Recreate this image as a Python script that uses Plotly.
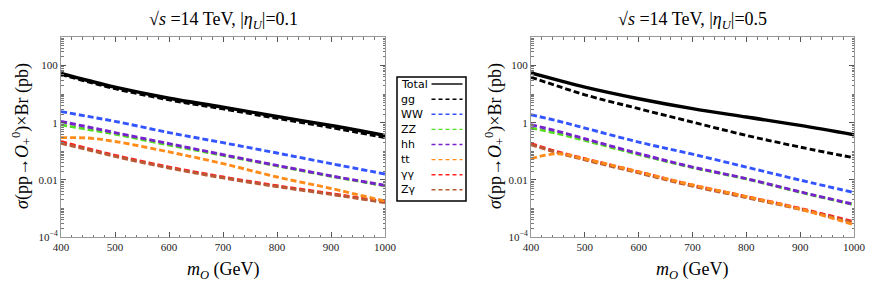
import plotly.graph_objects as go

W, H = 872, 287

masses = [400, 450, 500, 600, 700, 800, 900, 1000]

series_names = ["Total", "gg", "WW", "ZZ", "hh", "tt", "γγ", "Zγ"]
series_colors = ["#000000", "#000000", "#3355ff", "#55dd22", "#7722cc", "#ff8c1a", "#ff2222", "#b85a35"]

# left panel: |eta_U| = 0.1
left_total = [53, 30, 17.5, 7.2, 3.5, 1.65, 0.80, 0.36]
left_gg = [49, 27, 15.5, 6.3, 3.05, 1.42, 0.68, 0.30]
left_WW = [2.45, 1.66, 1.12, 0.45, 0.20, 0.087, 0.037, 0.016]
left_ZZ = [0.84, 0.58, 0.40, 0.165, 0.072, 0.031, 0.0134, 0.0062]
left_hh = [1.1, 0.71, 0.45, 0.185, 0.076, 0.032, 0.0138, 0.0064]
left_tt = [0.30, 0.29, 0.22, 0.095, 0.037, 0.0126, 0.005, 0.0018]
left_aa = [0.22, 0.123, 0.072, 0.028, 0.0126, 0.0062, 0.0033, 0.0017]
left_Za = [0.19, 0.113, 0.066, 0.026, 0.0117, 0.0058, 0.0031, 0.0016]

# right panel: |eta_U| = 0.5
right_total = [55, 31, 17.5, 6.9, 3.1, 1.58, 0.81, 0.38]
right_gg = [39, 19, 9.5, 3.1, 1.05, 0.36, 0.14, 0.059]
right_WW = [1.9, 1.15, 0.65, 0.21, 0.079, 0.028, 0.0098, 0.0036]
right_ZZ = [0.66, 0.42, 0.24, 0.077, 0.027, 0.0108, 0.0037, 0.00136]
right_hh = [0.85, 0.50, 0.275, 0.083, 0.028, 0.011, 0.0038, 0.00138]
right_tt = [0.055, 0.082, 0.054, 0.019, 0.0066, 0.0026, 0.00095, 0.00027]
right_aa = [0.186, 0.095, 0.055, 0.019, 0.0065, 0.0026, 0.0010, 0.00034]
right_Za = [0.17, 0.088, 0.05, 0.0175, 0.006, 0.0024, 0.00093, 0.00031]

titles = ["√<i>s</i> =14 TeV, |<i>η</i><sub><i>U</i></sub>|=0.1",
          "√<i>s</i> =14 TeV, |<i>η</i><sub><i>U</i></sub>|=0.5"]
x_title = "<i>m</i><sub><i>O</i></sub> (GeV)"
y_title = "<i>σ</i>(pp→<i>O</i><sub>+</sub><sup>0</sup>)×Br (pb)"
x_ticks = [400, 500, 600, 700, 800, 900, 1000]
y_tickvals = [1e2, 1, 1e-2, 1e-4]
y_ticktext = ["100", "1", "0.01", "10<sup>−4</sup>"]

panels = [
    dict(total=left_total, gg=left_gg, WW=left_WW, ZZ=left_ZZ, hh=left_hh, tt=left_tt, aa=left_aa, Za=left_Za),
    dict(total=right_total, gg=right_gg, WW=right_WW, ZZ=right_ZZ, hh=right_hh, tt=right_tt, aa=right_aa, Za=right_Za),
]
keys = ["total", "gg", "WW", "ZZ", "hh", "tt", "aa", "Za"]
draw_order = ["total", "gg", "WW", "ZZ", "hh", "aa", "Za", "tt"]

SERIF = "Liberation Serif"
SANS = "DejaVu Sans"
fig = go.Figure()

for p, pan in enumerate(panels):
    xa = "x" if p == 0 else "x2"
    ya = "y" if p == 0 else "y2"
    for k in draw_order:
        i = keys.index(k)
        fig.add_trace(go.Scatter(
            x=masses, y=pan[k], mode="lines", xaxis=xa, yaxis=ya,
            line=dict(color=series_colors[i], width=3.4 if k == "total" else 2.9,
                      dash="solid" if k == "total" else "6px,3px", shape="spline"),
            showlegend=False, hoverinfo="skip"))

# plot-area geometry in pixels
px_left = [(61, 385), (531, 854)]
py_top, py_bot = 37, 237

def xdom(a, b):
    return [a / W, b / W]

ydom = [1 - py_bot / H, 1 - py_top / H]

minor_y = []
for e in range(-4, 3):
    for d in range(1, 10):
        v = d * 10 ** e
        if d == 1 and e % 2 == 0:
            continue
        minor_y.append(v)

axis_common_x = dict(range=[400, 1000], tickvals=x_ticks, ticks="inside", ticklen=5,
                     tickcolor="#555", showline=True, linecolor="#999", linewidth=1,
                     mirror="ticks", showgrid=False, zeroline=False,
                     tickfont=dict(family=SERIF, size=11, color="#222"),
                     ticklabeloverflow="allow",
                     minor=dict(dtick=20, ticks="inside", ticklen=2.5, tickcolor="#777"),
                     automargin=False)
axis_common_y = dict(type="log", range=[-4, 3], tickvals=y_tickvals, ticktext=y_ticktext,
                     ticks="inside", ticklen=5, tickcolor="#555", showline=True,
                     linecolor="#999", linewidth=1, mirror="ticks", showgrid=False,
                     zeroline=False, tickfont=dict(family=SERIF, size=11, color="#222"),
                     ticklabeloverflow="allow",
                     minor=dict(tickvals=minor_y, ticks="inside", ticklen=2.5, tickcolor="#777"),
                     automargin=False)

fig.update_layout(
    width=W, height=H, margin=dict(l=0, r=0, t=0, b=0),
    paper_bgcolor="white", plot_bgcolor="white",
    font=dict(family=SERIF),
    xaxis=dict(domain=xdom(*px_left[0]), anchor="y", **axis_common_x),
    yaxis=dict(domain=ydom, anchor="x", **axis_common_y),
    xaxis2=dict(domain=xdom(*px_left[1]), anchor="y2", **axis_common_x),
    yaxis2=dict(domain=ydom, anchor="x2", **axis_common_y),
    showlegend=False,
)

annotations = []
for p in range(2):
    a, b = px_left[p]
    cx = (a + b) / 2
    annotations.append(dict(text=titles[p], x=cx / W, y=1 - 21 / H, xref="paper", yref="paper",
                            showarrow=False, font=dict(family=SERIF, size=18, color="black"),
                            xanchor="center", yanchor="middle"))
    annotations.append(dict(text=x_title, x=cx / W, y=1 - 270 / H, xref="paper", yref="paper",
                            showarrow=False, font=dict(family=SERIF, size=18, color="black"),
                            xanchor="center", yanchor="middle"))
    ty_x = 21 if p == 0 else 494
    annotations.append(dict(text=y_title, x=ty_x / W, y=1 - 136 / H, xref="paper", yref="paper",
                            showarrow=False, textangle=-90,
                            font=dict(family=SERIF, size=18, color="black"),
                            xanchor="center", yanchor="middle"))

# custom legend (text left, line sample right)
shapes = []
lx0, lx1, ly0, ly1 = 397, 466, 77, 201
shapes.append(dict(type="rect", xref="paper", yref="paper",
                   x0=lx0 / W, x1=lx1 / W, y0=1 - ly1 / H, y1=1 - ly0 / H,
                   line=dict(color="black", width=1.5), fillcolor="white", layer="above"))
row_y = [84, 99.2, 114.3, 129.4, 144.5, 159.6, 174.7, 189.8]
for i, name in enumerate(series_names):
    yy = 1 - row_y[i] / H
    annotations.append(dict(text=name, x=398.5 / W, y=yy, xref="paper", yref="paper",
                            showarrow=False, xanchor="left", yanchor="middle",
                            font=dict(family=SANS, size=11, color="black")))
    shapes.append(dict(type="line", xref="paper", yref="paper",
                       x0=431.5 / W, x1=462.5 / W, y0=yy, y1=yy,
                       line=dict(color=series_colors[i], width=1.4,
                                 dash="solid" if i == 0 else "4px,3px"), layer="above"))

fig.update_layout(annotations=annotations, shapes=shapes)
fig.write_html("out.html", config={"displayModeBar": False, "staticPlot": True},
               post_script="document.body.style.margin='0';document.body.style.overflow='hidden';")
